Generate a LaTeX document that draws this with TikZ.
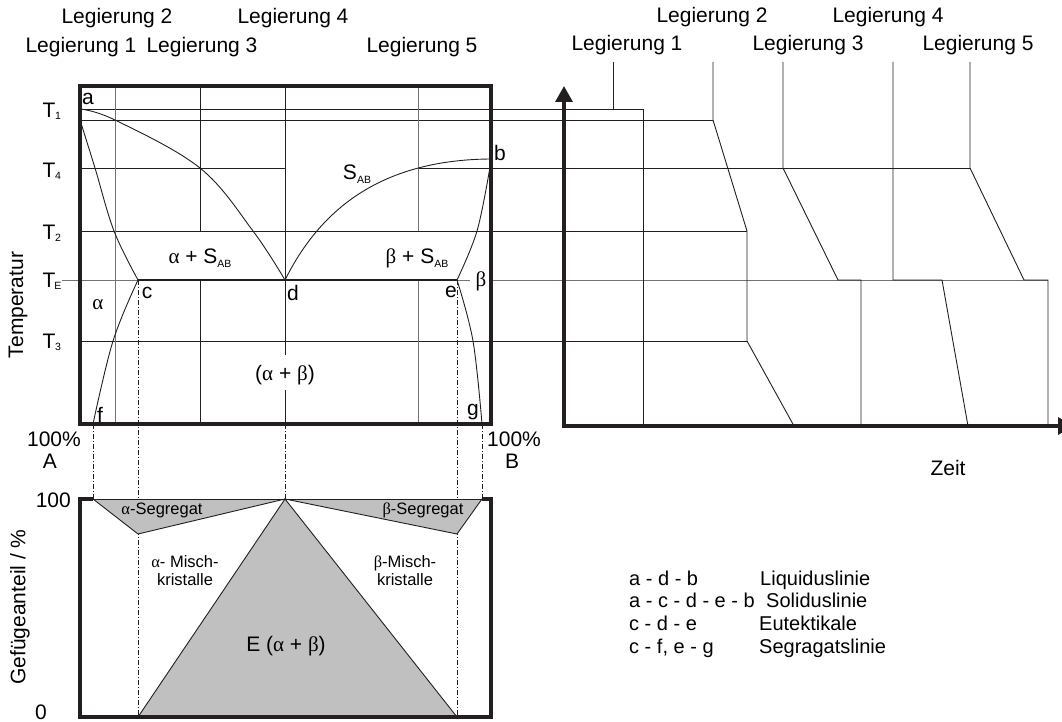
\documentclass[tikz,border=0pt]{standalone}
\usepackage{fontspec}
\setmainfont{Liberation Sans}
\newfontfamily\grk{Liberation Serif}
\usetikzlibrary{arrows.meta}
\newcommand{\myal}{{\grk α}}
\newcommand{\mybe}{{\grk β}}
\newcommand{\mysub}[1]{\raisebox{-4pt}{\fontsize{10.5}{10.5}\selectfont #1}}
\definecolor{ink}{HTML}{231F20}
\definecolor{segfill}{HTML}{C0C0C0}
\begin{document}
\begin{tikzpicture}[x=1pt,y=-1pt,
  thinl/.style={line width=0.9pt, draw=ink},
  gridl/.style={line width=0.9pt, draw=black!55},
  thickl/.style={line width=3.3pt, draw=ink},
  curvel/.style={line width=0.9pt, draw=ink},
  dd/.style={line width=0.9pt, draw=ink, dash pattern=on 5pt off 2pt on 1pt off 2pt},
  lbl/.style={font=\fontsize{21}{23}\selectfont, inner sep=0pt},
  leg/.style={font=\fontsize{20}{22}\selectfont, inner sep=0pt, anchor=base west},
  sml/.style={font=\fontsize{16.5}{18}\selectfont, inner sep=0pt, align=center},
  subl/.style={font=\fontsize{10.5}{10.5}\selectfont, inner sep=0pt},
]
\useasboundingbox (0,0) rectangle (1062,722);

% key points
\coordinate (a) at (80,109);
\coordinate (a2) at (80,120);
\coordinate (c) at (138,280);
\coordinate (d) at (285,280);
\coordinate (e) at (457,280);
\coordinate (b) at (490,159);
\coordinate (b2) at (490,167);
\coordinate (f) at (93,424);
\coordinate (g) at (482,424);

% horizontal temperature lines
\draw[thinl] (80,109) -- (643,109);
\draw[thinl] (80,120) -- (713,120);
\draw[thinl] (80,168) -- (285,168);
\draw[thinl] (418,168) -- (970,168);
\draw[thinl] (78,231) -- (747,231);
\draw[gridl] (62,280) -- (470,280);
\draw[gridl] (490,280) -- (1048,280);
\draw[thinl] (78,341) -- (747,341);

% vertical alloy lines
\draw[gridl] (115,86) -- (115,424);
\draw[thinl] (200,86) -- (200,231);
\draw[thinl] (200,280) -- (200,424);
\draw[thinl] (285,86) -- (285,355);
\draw[thinl] (285,390) -- (285,424);
\draw[gridl] (418,86) -- (418,231);
\draw[gridl] (418,280) -- (418,424);

% dash-dot projections
\draw[dd] (f) -- (93,499);
\draw[dd] (c) -- (138,717);
\draw[dd] (285,424) -- (285,499);
\draw[dd] (e) -- (457,717);
\draw[dd] (g) -- (482,499);

% phase curves
\draw[curvel] plot[smooth, tension=0.6] coordinates {(a) (115,120) (200,168) (253,231) (d)};
\draw[curvel] plot[smooth, tension=0.6] coordinates {(a2) (95,168) (114,231) (c)};
\draw[curvel] plot[smooth, tension=0.6] coordinates {(c) (113,341) (f)};
\draw[curvel] (d) .. controls (315,220) and (370,160) .. (b);
\draw[curvel] plot[smooth, tension=0.6] coordinates {(b2) (477,231) (e)};
\draw[curvel] plot[smooth, tension=0.6] coordinates {(e) (473,341) (g)};

% eutectic line and box
\draw[line width=2.8pt, draw=ink] (c) -- (e);
\draw[thickl] (80,86) rectangle (491,424);

% lower diagram
\fill[segfill] (93,499) -- (138,534) -- (285,499) -- cycle;
\fill[segfill] (285,499) -- (457,534) -- (482,499) -- cycle;
\fill[segfill] (138,717) -- (285,499) -- (457,717) -- cycle;
\draw[thinl] (93,499) -- (138,534) -- (285,499) -- (457,534) -- (482,499);
\draw[thinl] (138,717) -- (285,499) -- (457,717);
\draw[thinl] (93,499) -- (482,499);
\draw[thickl] (93,499) -- (80,499) -- (80,717) -- (491,717) -- (491,499) -- (482,499);

% right cooling diagram axes
\draw[thickl, -{Triangle[width=17pt,length=16pt]}] (564,427.6) -- (564,86);
\draw[thickl, -{Triangle[width=17pt,length=16pt]}] (562.4,426) -- (1074,426);

% cooling curves
\draw[thinl] (613,62) -- (613,109) -- (643,109) -- (643,426);
\draw[thinl] (713,62) -- (713,120) -- (747,231) -- (747,341) -- (794,426);
\draw[thinl] (783,62) -- (783,168) -- (838,280) -- (861,280) -- (861,426);
\draw[thinl] (893,62) -- (893,280) -- (942,280) -- (968,426);
\draw[thinl] (970,62) -- (970,168) -- (1024,280) -- (1048,280) -- (1048,426);

% top labels left
\node[lbl] (l1) at (81,47) {Legierung 1};
\node[lbl] (l2) at (117,18) {Legierung 2};
\node[lbl] (l3) at (202,47) {Legierung 3};
\node[lbl] (l4) at (293,18) {Legierung 4};
\node[lbl] (l5) at (422,47) {Legierung 5};
% top labels right
\node[lbl] (r1) at (627,45) {Legierung 1};
\node[lbl] (r2) at (712,17) {Legierung 2};
\node[lbl] (r3) at (808,45) {Legierung 3};
\node[lbl] (r4) at (888,17) {Legierung 4};
\node[lbl] (r5) at (978,45) {Legierung 5};

% temperature labels
\node[lbl] (t1) at (49,110) {T};  \node[subl] (t1s) at (58,116) {1};
\node[lbl] (t4) at (49,170) {T};  \node[subl] (t4s) at (58,176) {4};
\node[lbl] (t2) at (49,232) {T};  \node[subl] (t2s) at (58,238) {2};
\node[lbl] (te) at (49,280) {T};  \node[subl] (tes) at (58,286) {E};
\node[lbl] (t3) at (49,341) {T};  \node[subl] (t3s) at (58,347) {3};
\node[lbl, rotate=90] (temp) at (18,305) {Temperatur};

% point labels
\node[lbl] (la) at (88,99) {a};
\node[lbl] (lb) at (500,153) {b};
\node[lbl] (lc) at (147,293) {c};
\node[lbl] (ld) at (293,293) {d};
\node[lbl] (le) at (451,292) {e};
\node[lbl] (lbeta) at (481,281) {\mybe};
\node[lbl] (lf) at (100,415) {f};
\node[lbl] (lg) at (473,412) {g};
\node[lbl] (lal) at (98,305) {\myal};
\node[lbl] (aS) at (200,258) {\myal{} + S\mysub{AB}};
\node[lbl] (bS) at (417,258) {\mybe{} + S\mysub{AB}};
\node[lbl] (S) at (357,174) {S\mysub{AB}};
\node[lbl] (ab) at (285,375) {(\myal{} + \mybe)};

\node[lbl] (pA) at (54,439) {100\%};
\node[lbl] (A) at (50,461) {A};
\node[lbl] (pB) at (514,439) {100\%};
\node[lbl] (B) at (512,461) {B};
\node[lbl] (zeit) at (948,468) {Zeit};

% lower labels
\node[lbl, anchor=east] (h100) at (71,500) {100};
\node[lbl] (h0) at (41,712) {0};
\node[lbl, rotate=90] (gef) at (20,607) {Gefügeanteil / \%};
\node[sml] (aseg) at (162,510) {\myal-Segregat};
\node[sml] (bseg) at (423,510) {\mybe-Segregat};
\node[sml] (amk) at (185,571) {\myal- Misch-\\kristalle};
\node[sml] (bmk) at (405,571) {\mybe-Misch-\\kristalle};
\node[lbl] (E) at (286,646) {E (\myal{} + \mybe)};

% legend
\node[leg] (k1) at (629,585) {a - d - b};
\node[leg] (v1) at (760,585) {Liquiduslinie};
\node[leg] (k2) at (629,607) {a - c - d - e - b};
\node[leg] (v2) at (766,607) {Soliduslinie};
\node[leg] (k3) at (629,630) {c - d - e};
\node[leg] (v3) at (759,630) {Eutektikale};
\node[leg] (k4) at (629,653) {c - f, e - g};
\node[leg] (v4) at (759,653) {Segragatslinie};
\end{tikzpicture}
\end{document}
